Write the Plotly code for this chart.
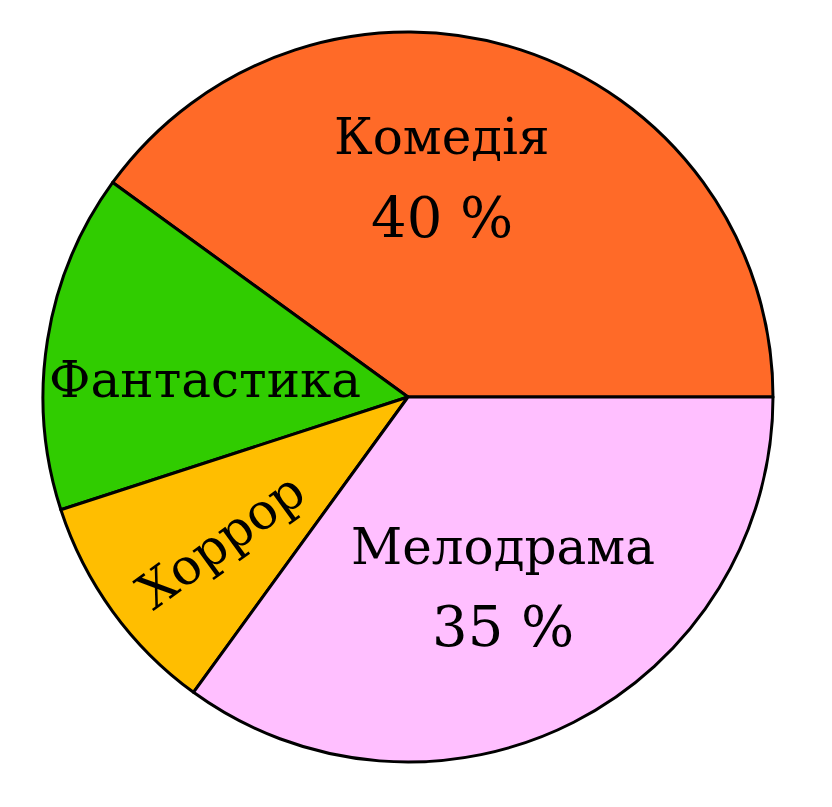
import plotly.graph_objects as go

labels = ["Комедія", "Фантастика", "Хоррор", "Мелодрама"]
values = [40, 15, 10, 35]
colors = ["#FF6A28", "#30CC00", "#FFBE00", "#FFBFFF"]
show_pct = [True, False, False, True]

W, H = 832, 807
OFF = 8  # page body margin
cx, cy, R = 408 - OFF, 397 - OFF, 365

fig = go.Figure(go.Pie(
    labels=labels, values=values, sort=False,
    direction="counterclockwise", rotation=-54,
    marker=dict(colors=colors, line=dict(color="black", width=3)),
    textinfo="none", hoverinfo="label+percent", showlegend=False,
    domain=dict(x=[(cx - R) / W, (cx + R) / W], y=[(H - cy - R) / H, (H - cy + R) / H]),
))

FONT = "DejaVu Serif"
place = {
    "Комедія": (442, 137, 0),
    "Фантастика": (205, 380, 0),
    "Хоррор": (221, 541, -36),
    "Мелодрама": (503, 547, 0),
}
pct_place = {"Комедія": (442, 218), "Мелодрама": (503, 626)}

def px(x, y):
    return (x - OFF) / W, 1 - (y - OFF) / H

ann = []
total = sum(values)
for lab, v, sp in zip(labels, values, show_pct):
    x, y, a = place[lab]
    X, Y = px(x, y)
    ann.append(dict(x=X, y=Y, xref="paper", yref="paper", text=lab, showarrow=False,
                    textangle=a, font=dict(family=FONT, size=50, color="black"),
                    xanchor="center", yanchor="middle"))
    if sp:
        x2, y2 = pct_place[lab]
        X2, Y2 = px(x2, y2)
        ann.append(dict(x=X2, y=Y2, xref="paper", yref="paper",
                        text=f"{round(100 * v / total)} %", showarrow=False,
                        font=dict(family=FONT, size=56, color="black"),
                        xanchor="center", yanchor="middle"))

fig.update_layout(width=W, height=H, margin=dict(l=0, r=0, t=0, b=0),
                  paper_bgcolor="white", plot_bgcolor="white", annotations=ann)
fig.write_html("out.html")
